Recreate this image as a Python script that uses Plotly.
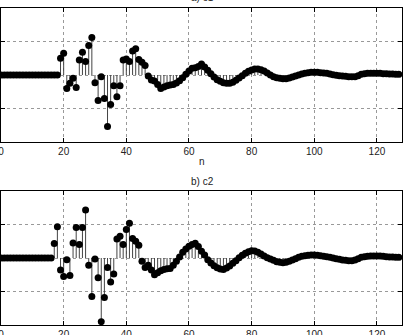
import plotly.graph_objects as go

n = list(range(128))

c1 = [0.0] * 19 + [
    0.50, 0.65, -0.40, -0.25, -0.10, -0.37, 0.45, 0.68, 0.40, 0.88,
    1.12, -0.23, -0.76, -0.05, -0.70, -1.54, -0.88, -0.32, -0.65, -0.32,
    0.45, 0.48, 0.40, 0.72, 0.78, 0.46, 0.38, 0.28, -0.03, -0.15,
    -0.18, -0.28, -0.40, -0.36, -0.32, -0.30, -0.28, -0.24, -0.17, -0.08,
    0.02, 0.12, 0.20, 0.22, 0.25, 0.33, 0.24, 0.14, 0.04, -0.06,
    -0.14, -0.19, -0.23, -0.25, -0.25, -0.22, -0.16, -0.09, -0.02, 0.05,
    0.11, 0.15, 0.18, 0.18, 0.16, 0.12, 0.06, 0.00, -0.05, -0.08,
    -0.10, -0.11, -0.11, -0.09, -0.06, -0.03, 0.00, 0.03, 0.05, 0.07,
    0.08, 0.08, 0.08, 0.07, 0.06, 0.05, 0.03, 0.01, -0.01, -0.02,
    -0.03, -0.04, -0.05, -0.05, -0.05, -0.02, 0.02, 0.04, 0.05, 0.05,
    0.05, 0.05, 0.05, 0.04, 0.04, 0.03, 0.03, 0.02, 0.02,
]

c2 = [0.0] * 17 + [
    0.43, 0.93, -0.36, -0.55, -0.05, -0.52, 0.45, 0.91, 0.40, 0.91,
    1.43, -0.22, -1.15, -0.03, -0.59, -1.90, -1.18, -0.28, -0.72, -0.48,
    0.57, 0.65, 0.40, 0.85, 1.04, 0.58, 0.50, 0.38, -0.10, -0.28,
    -0.22, -0.36, -0.50, -0.44, -0.38, -0.34, -0.32, -0.31, -0.22, -0.10,
    0.03, 0.17, 0.27, 0.35, 0.40, 0.44, 0.34, 0.20, 0.09, -0.05,
    -0.15, -0.23, -0.29, -0.33, -0.34, -0.30, -0.24, -0.16, -0.08, 0.01,
    0.08, 0.14, 0.19, 0.22, 0.21, 0.17, 0.12, 0.06, 0.01, -0.03,
    -0.07, -0.11, -0.13, -0.14, -0.13, -0.10, -0.06, -0.02, 0.02, 0.05,
    0.07, 0.08, 0.09, 0.09, 0.08, 0.07, 0.05, 0.04, 0.02, 0.00,
    -0.02, -0.04, -0.06, -0.07, -0.08, -0.08, -0.06, -0.02, 0.02, 0.04,
    0.05, 0.06, 0.06, 0.06, 0.06, 0.05, 0.04, 0.03, 0.03, 0.02, 0.02,
]

x_ticks = [0, 20, 40, 60, 80, 100, 120]
titles = ["a) c1", "b) c2"]
x_label = "n"

W, H = 404, 335
FONT = "Liberation Sans, Arial, sans-serif"


def stems(xs, ys):
    sx, sy = [], []
    for xv, yv in zip(xs, ys):
        sx += [xv, xv, None]
        sy += [0, yv, None]
    return sx, sy


fig = go.Figure()
for i, data in enumerate([c1, c2]):
    ax = "" if i == 0 else "2"
    sx, sy = stems(n, data)
    fig.add_trace(go.Scatter(x=sx, y=sy, mode="lines",
                             line=dict(color="#444444", width=1),
                             xaxis="x" + ax, yaxis="y" + ax,
                             hoverinfo="skip", showlegend=False))
    fig.add_trace(go.Scatter(x=n, y=data, mode="markers",
                             marker=dict(color="black", size=7),
                             xaxis="x" + ax, yaxis="y" + ax,
                             showlegend=False))

ax_common = dict(showline=True, linecolor="black", linewidth=1, mirror="ticks",
                 showgrid=True, gridcolor="#999999", griddash="dot", gridwidth=1,
                 zeroline=False, ticks="inside", ticklen=4, tickcolor="black",
                 automargin=False,
                 tickfont=dict(family=FONT, size=10, color="#222222"))

x0, x1 = 1 / W, 402 / W
dom_top = [1 - 142 / H, 1 - 8 / H]
dom_bot = [1 - 325 / H, 1 - 191 / H]

fig.update_layout(
    width=W, height=H,
    margin=dict(l=0, r=0, t=0, b=0),
    paper_bgcolor="white", plot_bgcolor="white",
    font=dict(family=FONT, size=10, color="#222222"),
    xaxis=dict(domain=[x0, x1], range=[0, 128], tickvals=x_ticks, anchor="y",
               ticklabeloverflow="allow", **ax_common),
    yaxis=dict(domain=dom_top, range=[-2, 2], dtick=1, showticklabels=False,
               anchor="x", **ax_common),
    xaxis2=dict(domain=[x0, x1], range=[0, 128], tickvals=x_ticks, anchor="y2",
                ticklabeloverflow="allow", **ax_common),
    yaxis2=dict(domain=dom_bot, range=[-2, 2], dtick=1, showticklabels=False,
                anchor="x2", **ax_common),
    annotations=[
        dict(text=titles[0], x=0.5, y=1 - 5 / H, xref="paper", yref="paper",
             xanchor="center", yanchor="bottom", showarrow=False,
             font=dict(family=FONT, size=10, color="#222222")),
        dict(text=titles[1], x=0.5, y=1 - 182 / H, xref="paper", yref="paper",
             xanchor="center", yanchor="middle", showarrow=False,
             font=dict(family=FONT, size=10, color="#222222")),
        dict(text=x_label, x=0.5, y=1 - 161 / H, xref="paper", yref="paper",
             xanchor="center", yanchor="middle", showarrow=False,
             font=dict(family=FONT, size=10, color="#222222")),
    ],
)

fig.write_html("out.html")
